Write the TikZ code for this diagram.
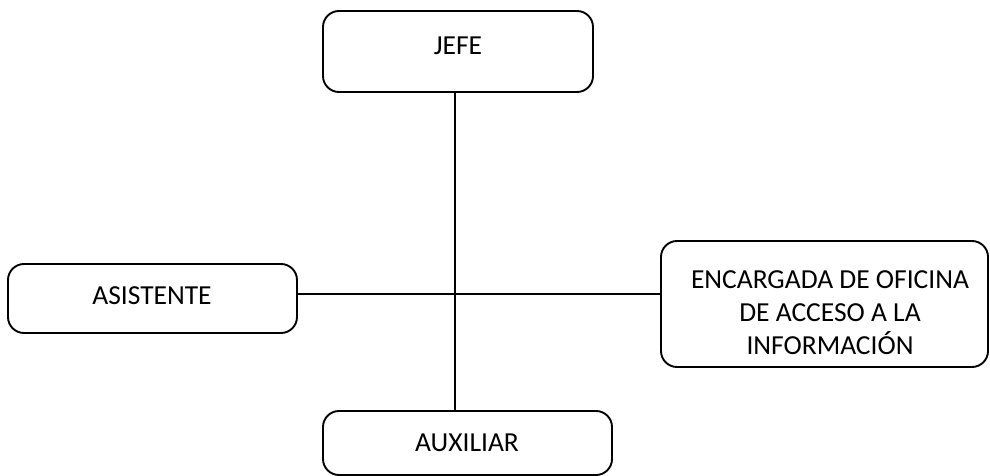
\documentclass[tikz,border=0pt]{standalone}
\usepackage{fontspec}
\setmainfont{Carlito}
\begin{document}
\begin{tikzpicture}[x=1pt,y=-1pt,
  unit/.style={draw=black,line width=1.9pt,rounded corners=16pt,fill=white},
  label/.style={font=\fontsize{27.5}{33}\selectfont,align=center,inner sep=0pt},
  link/.style={draw=black,line width=1.8pt}]
\useasboundingbox (0,0) rectangle (990,476);
% boxes
\path[unit] (323,11) rectangle (593,92);
\path[unit] (8,264) rectangle (297,333);
\path[unit] (661,241) rectangle (988,367);
\path[unit] (323,411) rectangle (612,475);
% anchor nodes for the boxes
\node[inner sep=0pt,minimum width=270pt,minimum height=81pt] (jefe) at (458,51.5) {};
\node[inner sep=0pt,minimum width=289pt,minimum height=69pt] (asis) at (152.5,298.5) {};
\node[inner sep=0pt,minimum width=327pt,minimum height=126pt] (enc) at (824.5,304) {};
\node[inner sep=0pt,minimum width=289pt,minimum height=64pt] (aux) at (467.5,443) {};
% labels
\node[label] (tj) at (458,46) {JEFE};
\node[label] (ta) at (152,296) {ASISTENTE};
\node[label] (te) at (830,313) {ENCARGADA DE OFICINA\\DE ACCESO A LA\\INFORMACIÓN};
\node[label] (tx) at (467,443) {AUXILIAR};
% connectors
\coordinate (cross) at (455,294);
\draw[link] (jefe.south -| cross) -- (aux.north -| cross);
\draw[link] (asis.east |- cross) -- (enc.west |- cross);
\end{tikzpicture}
\end{document}
